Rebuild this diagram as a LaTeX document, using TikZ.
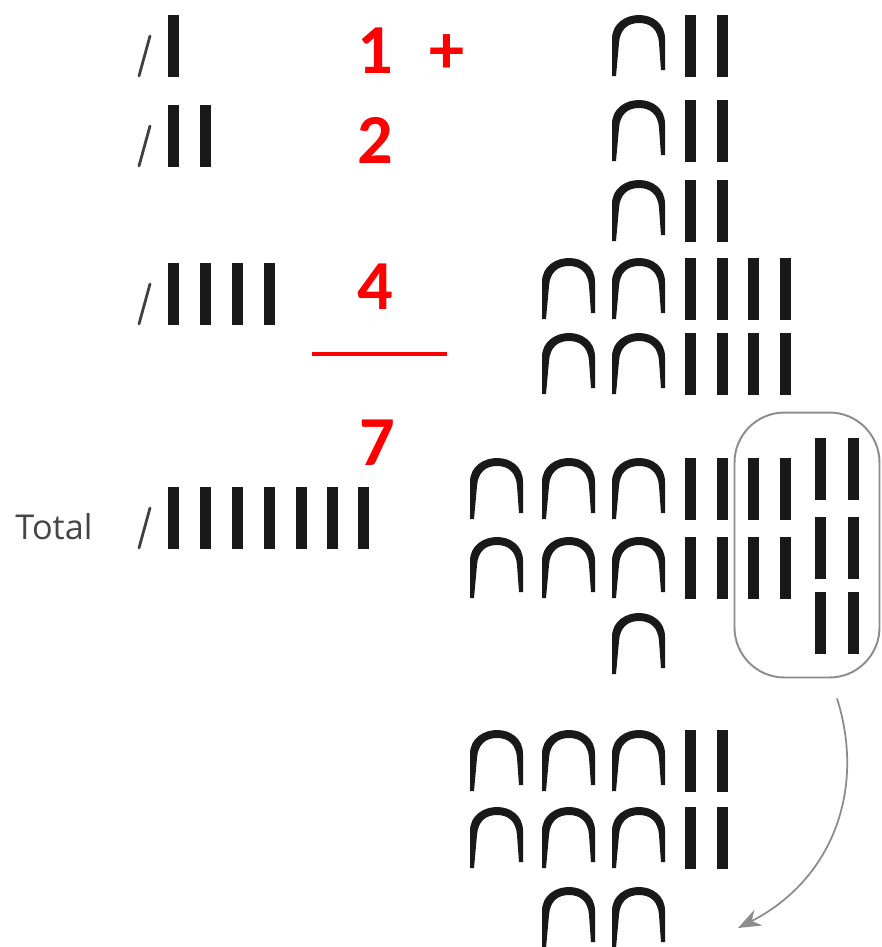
\documentclass[tikz,border=0pt]{standalone}
\usepackage{fontspec}
\usetikzlibrary{arrows.meta}
\newfontfamily\numfont{Carlito}
\newfontfamily\labelfont{Open Sans}
\definecolor{markred}{RGB}{255,0,0}
\definecolor{ringgray}{RGB}{140,140,140}
\definecolor{inkblack}{RGB}{25,25,25}
\tikzset{
  arch/.pic={\fill[inkblack] (0,61) -- (0,24) .. controls (0,8) and (14,0) .. (27,0)
      .. controls (40,0) and (53,8) .. (53,24) -- (53,55) -- (49,55) -- (47,28)
      .. controls (46,14) and (38,8) .. (27,8) .. controls (16,8) and (8,14) .. (7,28)
      -- (4,61) -- cycle;},
  bar/.pic={\fill[inkblack] (0,0) rectangle (11,62);},
  slash/.pic={\draw[line width=1.6pt, black!75, line cap=round] (2,61) -- (13,21);}
}

\begin{document}
\begin{tikzpicture}[x=0.02cm,y=-0.02cm,
    num/.style={text=markred, inner sep=0pt, font=\numfont\bfseries\fontsize{40}{40}\selectfont},
    ring/.style={draw=ringgray, line width=1.1pt, rounded corners=1cm,
                 minimum width=2.9cm, minimum height=5.3cm, inner sep=0pt}]
    \useasboundingbox (0,0) rectangle (882,947);
    % Marques a l'esquerra: 1, 2, 4 i el total
    \pic at (137,15) {slash}; \pic at (168,15) {bar};
    \pic at (137,105) {slash};
    \foreach \x in {168,200} \pic at (\x,105) {bar};
    \pic at (137,263) {slash};
    \foreach \x in {168,200,232,264} \pic at (\x,263) {bar};
    \pic at (137,487) {slash};
    \foreach \x in {168,200,232,264,296,327,358} \pic at (\x,487) {bar};
    \node[font=\labelfont\fontsize{19.5}{19.5}\selectfont, text={rgb,255:red,70;green,70;blue,70}, inner sep=0pt] (total) at (54,527) {Total};
    % La suma en vermell
    \node[num] (one) at (375,51) {1};
    \node[num] (plus) at (447,54) {+};
    \node[num] (two) at (375,140) {2};
    \node[num] (four) at (375,287) {4};
    \draw[markred, line width=2.3pt] (312,354) -- (447,354);
    \node[num] (seven) at (377,443) {7};
    % Columna de la dreta
    \foreach \y in {15,100,180} {
        \pic at (612,\y) {arch};
        \pic at (685,\y) {bar}; \pic at (717,\y) {bar};
    }
    \foreach \y in {258,333} {
        \pic at (542,\y) {arch}; \pic at (612,\y) {arch};
        \foreach \x in {685,717,748,780} \pic at (\x,\y) {bar};
    }
    \foreach \y in {458,537} {
        \foreach \x in {470,542,612} \pic at (\x,\y) {arch};
        \foreach \x in {685,717,748,780} \pic at (\x,\y) {bar};
    }
    \pic at (612,613) {arch};
    \foreach \y in {438,517,592} {\pic at (815,\y) {bar}; \pic at (848,\y) {bar};}
    \node[ring] (carry) at (807,545) {};
    % Resultat final
    \foreach \y in {730,807} {
        \foreach \x in {470,542,612} \pic at (\x,\y) {arch};
        \pic at (685,\y) {bar}; \pic at (717,\y) {bar};
    }
    \pic at (542,887) {arch}; \pic at (612,887) {arch};
    % Fletxa
    \coordinate (from) at ([xshift=0.6cm,yshift=-0.4cm]carry.south);
    \coordinate (to) at (738,928);
    \draw[ringgray, line width=1pt, -{Stealth[length=13pt,width=10pt]}]
        (from) .. controls (866,790) and (832,880) .. (to);
\end{tikzpicture}
\end{document}
